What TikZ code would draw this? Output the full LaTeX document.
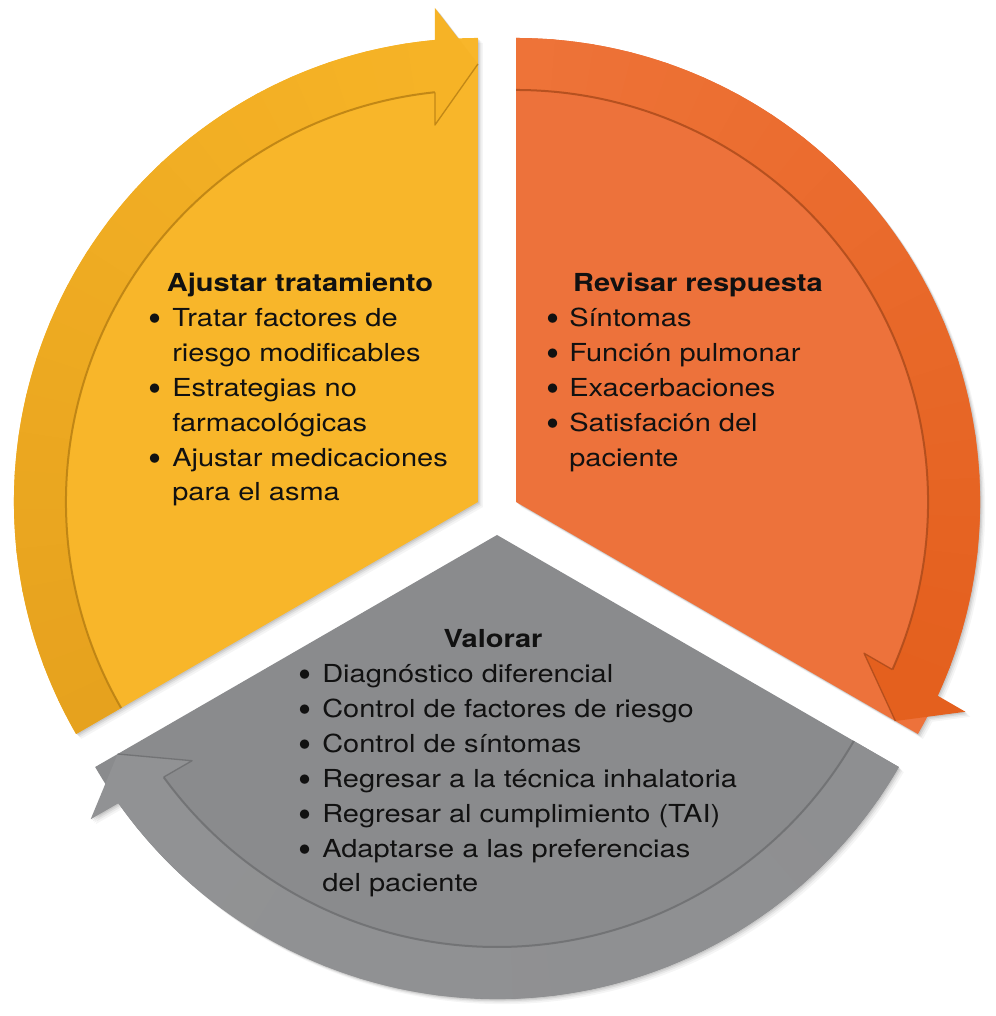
\documentclass[tikz,border=0pt]{standalone}
\usepackage{fontspec}
\setmainfont{TeX Gyre Heros}[FakeStretch=1.17]
\newfontfamily\bulfont{TeX Gyre Heros}
\definecolor{ybody}{HTML}{F8B62A}
\definecolor{ybandA}{HTML}{E6A21E}
\definecolor{ybandB}{HTML}{F6B326}
\definecolor{yline}{HTML}{B57D12}
\definecolor{obody}{HTML}{ED723B}
\definecolor{obandA}{HTML}{EE7338}
\definecolor{obandB}{HTML}{E4601E}
\definecolor{oline}{HTML}{A9491A}
\definecolor{gbody}{HTML}{8A8B8D}
\definecolor{gbandA}{HTML}{8E8F91}
\definecolor{gbandB}{HTML}{919294}
\definecolor{gline}{HTML}{6C6D6F}
\definecolor{ink}{HTML}{111111}
\tikzset{
  secshape/.style={insert path={(0,0) -- (0:464) arc[start angle=0,end angle=120,radius=464] -- cycle
    (377,43) -- (438,0) -- (494,43) -- cycle}},
  txt/.style={inner sep=0pt, anchor=base west, text=ink, font=\fontsize{18.6}{26}\selectfont},
  head/.style={inner sep=0pt, anchor=base, text=ink, font=\fontsize{18.6}{26}\selectfont\bfseries},
  bul/.style={inner sep=0pt, anchor=base, text=ink, font=\bulfont\fontsize{28}{28}\selectfont}
}
% #1 end angle of arrow, #2 body colour, #3 band colour at start, #4 band colour at arrow end, #5 line colour
\newcommand\cycsector[5]{%
  \foreach \s/\o in {5/0.04,3.5/0.05,2.2/0.07,1/0.08}{%
    \begin{scope}[shift={(\s,-\s)}]
      \begin{scope}[shift={(497,503)},shift={(#1+60:22)},rotate=#1]
        \fill[black,opacity=\o,secshape];
      \end{scope}
    \end{scope}}
  \begin{scope}[shift={(497,503)},shift={(#1+60:22)},rotate=#1]
    \fill[#2] (0,0) -- (0:464) arc[start angle=0,end angle=120,radius=464] -- cycle;
    \foreach \t in {0,...,23}{%
      \pgfmathsetmacro\aa{4+\t*116/24}
      \pgfmathsetmacro\ab{min(\aa+116/24+0.6,120)}
      \pgfmathtruncatemacro\pc{100*\t/23}
      \fill[#3!\pc!#4] (\aa:412) -- (\aa:464) arc[start angle=\aa,end angle=\ab,radius=464]
        -- (\ab:412) arc[start angle=\ab,end angle=\aa,radius=412] -- cycle;
    }
    \draw[#5,line width=1.5pt,opacity=0.8] (120:412) arc[start angle=120,end angle=6,radius=412];
    \fill[#4] (377,43) -- (438,0) -- (494,43) -- cycle;
    \draw[#5,line width=1pt,opacity=0.8,line join=round] (409.7,43) -- (377,43) -- (438,0);
  \end{scope}}
\begin{document}
\begin{tikzpicture}[x=0.75pt,y=0.75pt]
\useasboundingbox (0,0) rectangle (995,1016);
\fill[white] (0,0) rectangle (995,1016);
% sectors: yellow (top-left), orange (top-right), gray (bottom)
\cycsector{90}{ybody}{ybandA}{ybandB}{yline}
\cycsector{-30}{obody}{obandA}{obandB}{oline}
\cycsector{210}{gbody}{gbandA}{gbandB}{gline}

% Yellow text
\node[head] (yh) at (300,724) {Ajustar tratamiento};
\node[bul] (yb1) at (155,684.5) {•};
\node[txt] (y1) at (172,689) {Tratar factores de};
\node[txt] (y2) at (172,654) {riesgo modificables};
\node[bul] (yb2) at (155,614.5) {•};
\node[txt] (y3) at (172,619) {Estrategias no};
\node[txt] (y4) at (172,584) {farmacológicas};
\node[bul] (yb3) at (155,544.5) {•};
\node[txt] (y5) at (172,549) {Ajustar medicaciones};
\node[txt] (y6) at (172,515) {para el asma};

% Orange text
\node[head] (oh) at (698,724) {Revisar respuesta};
\node[bul] (ob1) at (553,684.5) {•};
\node[txt] (o1) at (569,689) {Síntomas};
\node[bul] (ob2) at (553,649.5) {•};
\node[txt] (o2) at (569,654) {Función pulmonar};
\node[bul] (ob3) at (553,614.5) {•};
\node[txt] (o3) at (569,619) {Exacerbaciones};
\node[bul] (ob4) at (553,579.5) {•};
\node[txt] (o4) at (569,584) {Satisfación del};
\node[txt] (o5) at (569,549) {paciente};

% Gray text
\node[head] (gh) at (493,368) {Valorar};
\node[bul] (gb1) at (305,328.5) {•};
\node[txt] (g1) at (322,333) {Diagnóstico diferencial};
\node[bul] (gb2) at (305,293.5) {•};
\node[txt] (g2) at (322,298) {Control de factores de riesgo};
\node[bul] (gb3) at (305,258.5) {•};
\node[txt] (g3) at (322,263) {Control de síntomas};
\node[bul] (gb4) at (305,223.5) {•};
\node[txt] (g4) at (322,228) {Regresar a la técnica inhalatoria};
\node[bul] (gb5) at (305,188.5) {•};
\node[txt] (g5) at (322,193) {Regresar al cumplimiento (TAI)};
\node[bul] (gb6) at (305,153.5) {•};
\node[txt] (g6) at (322,158) {Adaptarse a las preferencias};
\node[txt] (g7) at (322,124) {del paciente};
\end{tikzpicture}
\end{document}
